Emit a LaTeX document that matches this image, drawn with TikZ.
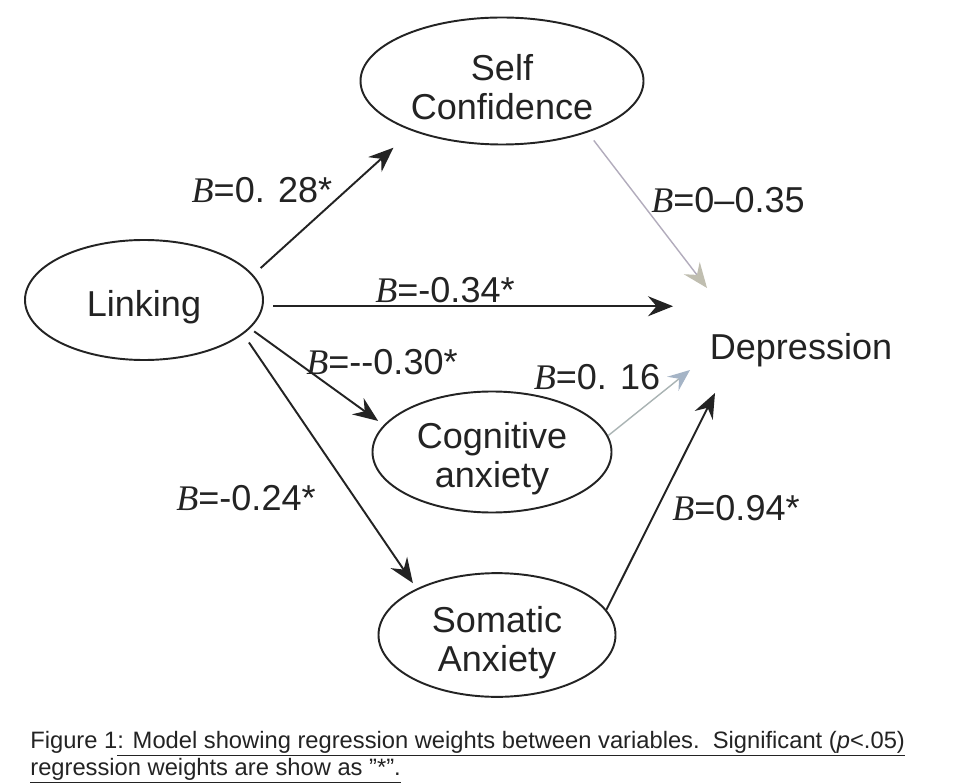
\documentclass[tikz,border=0pt]{standalone}
\usepackage{fontspec}
\setmainfont{Liberation Sans}
\newfontfamily\timesfont{Liberation Serif}
\usetikzlibrary{shapes.geometric,arrows.meta,positioning}

\definecolor{inkgray}{RGB}{35,35,35}
\definecolor{paleline}{RGB}{178,172,188}
\definecolor{palehead}{RGB}{192,190,176}
\definecolor{blueline}{RGB}{170,180,180}
\definecolor{bluehead}{RGB}{165,180,198}

\newcommand{\Bw}{{\timesfont\itshape B}}

\tikzset{
	bigfont/.style={font=\fontsize{20.5}{22}\selectfont},
	var/.style={draw=inkgray, ellipse, line width=1.1pt, inner sep=0pt, align=center, text=inkgray, bigfont},
	wt/.style={inner sep=0pt, text=inkgray, bigfont},
	arr/.style={-{Stealth[length=5mm,width=4mm,inset=1.7mm]}, line width=1.1pt, inkgray},
	captext/.style={inner sep=0pt, text=inkgray, font=\fontsize{13.5}{15}\selectfont}
}

\begin{document}
\begin{tikzpicture}
			\useasboundingbox (0,0) rectangle (19.06,15.64);
			\fill[white] (0,0) rectangle (19.06,15.64);

			% variables
			\node (link) [var, text height=0.8cm, minimum width=4.76cm, minimum height=2.4cm] at (2.88,9.64) {Linking};
			\node (selfc) [var, text height=1.55cm, minimum width=5.66cm, minimum height=2.54cm] at (10.04,14.02) {Self\\Confidence};
			\node (cogn) [var, text height=1.55cm, minimum width=4.78cm, minimum height=2.42cm] at (9.84,6.6) {Cognitive\\anxiety};
			\node (soma) [var, text height=1.6cm, minimum width=4.74cm, minimum height=2.4cm] at (9.94,2.94) {Somatic\\Anxiety};
			\node (depr) [wt] at (16.02,8.64) {Depression};

			% arrow ends at Depression
			\coordinate (dlink) at ([shift={(-2.56,0.9)}]depr.center);
			\coordinate (dself) at ([shift={(-1.88,1.24)}]depr.center);
			\coordinate (dcogn) at ([shift={(-2.22,-0.4)}]depr.center);
			\coordinate (dsoma) at ([shift={(-1.72,-0.86)}]depr.center);

			\draw[arr, shorten <=0.2cm, shorten >=0.5cm] (link.13) -- (selfc.209);
			\draw[arr, shorten <=0.2cm] (link.-3) -- (link.-3 -| dlink);
			\draw[arr, shorten <=0.1cm, shorten >=0.14cm] (link.-15) -- (cogn.166);
			\draw[arr, shorten <=0.2cm, shorten >=0.13cm] (link.-19) -- (soma.150);
			\draw[arr] (soma.13) -- (dsoma);
			\draw[paleline, line width=0.8pt, -{Stealth[length=5mm,width=4mm,inset=1.7mm,color=palehead]}, shorten <=0.2cm] (selfc.-31) -- (dself);
			\draw[blueline, line width=0.8pt, -{Stealth[length=4.4mm,width=3.6mm,inset=1.6mm,color=bluehead]}] (cogn.8) -- (dcogn);

			% weights
			\node (w1) [wt] at (5.24,11.84) {\Bw=0. 28*};
			\node (w2) [wt] at (8.9,9.84) {\Bw=-0.34*};
			\node (w3) [wt] at (14.56,11.64) {\Bw=0–0.35};
			\node (w4) [wt] at (7.64,8.4) {\Bw=-{}-0.30*};
			\node (w5) [wt] at (11.94,8.1) {\Bw=0. 16};
			\node (w6) [wt] at (4.92,5.68) {\Bw=-0.24*};
			\node (w7) [wt] at (14.72,5.48) {\Bw=0.94*};

			% caption
			\node (cap1) [captext, anchor=base west] at (0.6,0.68) {Figure 1\underline{: Model showing regression weights between variables.\ \ Significant (\textit{p}<.05)}};
			\node (cap2) [captext, anchor=base west] at ([yshift=-0.54cm]cap1.base west) {\underline{regression weights are show as \symbol{34}*\symbol{34}.}};
		\end{tikzpicture}
\end{document}
